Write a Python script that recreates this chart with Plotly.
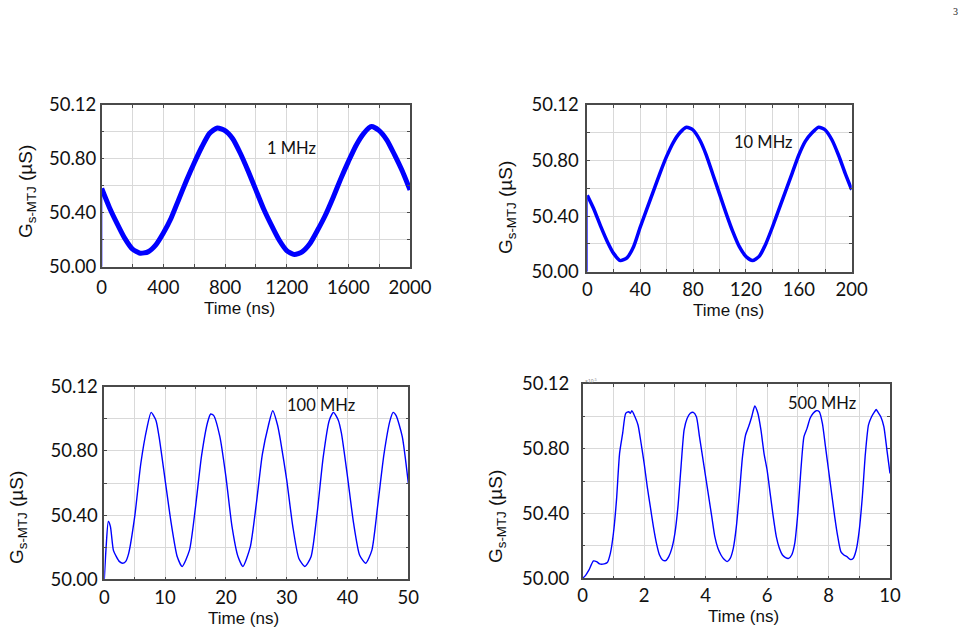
import plotly.graph_objects as go

W, H = 968, 633

# ---------------- data ----------------
G_BASE = 50.000

# 1 MHz panel (time in ns)
t1 = [0, 50, 100, 150, 200, 250, 300, 350, 400, 450, 500, 550, 600, 650, 700, 750,
      800, 850, 900, 950, 1000, 1050, 1100, 1150, 1200, 1250, 1300, 1350, 1400, 1450,
      1500, 1550, 1600, 1650, 1700, 1750, 1800, 1850, 1900, 1950, 2000]
g1 = [50.058, 50.044, 50.032, 50.021, 50.013, 50.010, 50.011, 50.016, 50.025, 50.036,
      50.050, 50.064, 50.077, 50.089, 50.099, 50.103, 50.101, 50.095, 50.084, 50.071,
      50.057, 50.043, 50.031, 50.020, 50.012, 50.009, 50.011, 50.017, 50.027, 50.038,
      50.051, 50.065, 50.078, 50.090, 50.099, 50.104, 50.101, 50.094, 50.083, 50.071,
      50.057]

# 10 MHz panel
t2 = [0, 5, 10, 15, 20, 25, 30, 35, 40, 45, 50, 55, 60, 65, 70, 75, 80, 85, 90, 95,
      100, 105, 110, 115, 120, 125, 130, 135, 140, 145, 150, 155, 160, 165, 170, 175,
      180, 185, 190, 195, 200]
g2 = [50.055, 50.045, 50.033, 50.022, 50.013, 50.008, 50.010, 50.018, 50.032, 50.045,
      50.058, 50.071, 50.083, 50.093, 50.100, 50.104, 50.102, 50.095, 50.084, 50.070,
      50.056, 50.042, 50.029, 50.018, 50.011, 50.008, 50.011, 50.020, 50.032, 50.045,
      50.058, 50.071, 50.084, 50.094, 50.100, 50.104, 50.102, 50.095, 50.084, 50.071,
      50.059]

# 100 MHz panel
t3 = [0, 0.3, 0.66, 1.0, 1.5, 2, 2.5, 3, 3.5, 4, 5, 6, 7, 7.7, 8.5, 9, 10, 11, 12, 12.8,
      14, 15, 16, 17, 17.5, 18, 19, 20, 21, 22, 22.8, 24, 25, 26, 27, 27.7, 28.5, 29,
      30, 31, 32, 33, 34, 35, 36, 37, 37.7, 38.5, 39, 40, 41, 42, 43, 44, 45, 46, 47,
      47.5, 48, 49, 50]
g3 = [50.000, 50.020, 50.036, 50.033, 50.018, 50.014, 50.011, 50.010, 50.011, 50.016,
      50.039, 50.072, 50.094, 50.104, 50.099, 50.089, 50.062, 50.035, 50.014, 50.008,
      50.018, 50.045, 50.077, 50.098, 50.103, 50.102, 50.089, 50.064, 50.033, 50.014,
      50.008, 50.020, 50.047, 50.078, 50.096, 50.105, 50.096, 50.086, 50.062, 50.033,
      50.013, 50.008, 50.014, 50.041, 50.076, 50.099, 50.104, 50.099, 50.091, 50.064,
      50.035, 50.015, 50.010, 50.018, 50.047, 50.078, 50.099, 50.104, 50.102, 50.089,
      50.060]

# 500 MHz panel
t4 = [0, 0.1, 0.2, 0.35, 0.45, 0.55, 0.7, 0.8, 0.9, 1.0, 1.1, 1.2, 1.3, 1.4, 1.5, 1.55,
      1.6, 1.7, 1.8, 1.9, 2.0, 2.1, 2.2, 2.3, 2.4, 2.5, 2.6, 2.7, 2.8, 2.9, 3.0, 3.1,
      3.2, 3.3, 3.4, 3.5, 3.6, 3.7, 3.8, 3.9, 4.0, 4.1, 4.2, 4.3, 4.4, 4.5, 4.6, 4.7,
      4.8, 4.9, 5.0, 5.1, 5.2, 5.3, 5.4, 5.5, 5.6, 5.7, 5.8, 5.9, 6.0, 6.1, 6.2, 6.3,
      6.4, 6.5, 6.6, 6.7, 6.8, 6.9, 7.0, 7.1, 7.2, 7.3, 7.4, 7.5, 7.6, 7.7, 7.8, 7.9,
      8.0, 8.1, 8.2, 8.3, 8.4, 8.5, 8.6, 8.7, 8.8, 8.9, 9.0, 9.1, 9.2, 9.3, 9.4, 9.5,
      9.55, 9.6, 9.7, 9.8, 9.9, 10.0]
g4 = [50.000, 50.002, 50.005, 50.0107, 50.0103, 50.0089, 50.0089, 50.0097, 50.0154,
      50.0278, 50.0484, 50.0772, 50.0895, 50.1019, 50.1029, 50.1019, 50.1035, 50.0998,
      50.0947, 50.0834, 50.0710, 50.0566, 50.0443, 50.0319, 50.0216, 50.0144, 50.0113,
      50.0109, 50.0134, 50.0185, 50.0278, 50.0443, 50.0690, 50.0916, 50.0988, 50.1019,
      50.1025, 50.0998, 50.0875, 50.0751, 50.0628, 50.0504, 50.0381, 50.0257, 50.0185,
      50.0144, 50.0117, 50.0103, 50.0123, 50.0185, 50.0319, 50.0525, 50.0751, 50.0885,
      50.0937, 50.0998, 50.1064, 50.1019, 50.0916, 50.0772, 50.0669, 50.0525, 50.0381,
      50.0257, 50.0185, 50.0144, 50.0128, 50.0123, 50.0144, 50.0216, 50.0401, 50.0669,
      50.0875, 50.0926, 50.0988, 50.1019, 50.1035, 50.1029, 50.0957, 50.0813, 50.0669,
      50.0525, 50.0381, 50.0257, 50.0165, 50.0144, 50.0134, 50.0117, 50.0123, 50.0175,
      50.0298, 50.0504, 50.0772, 50.0947, 50.0998, 50.1029, 50.1043, 50.1029, 50.0998,
      50.0937, 50.0792, 50.0648]

y_tickvals = [50.00, 50.02, 50.04, 50.06, 50.08, 50.10, 50.12]
y_ticktext = ["50.00", "", "50.40", "", "50.80", "", "50.12"]

x1_vals = list(range(0, 2001, 200))
x1_text = ["0", "", "400", "", "800", "", "1200", "", "1600", "", "2000"]
x2_vals = list(range(0, 201, 20))
x2_text = ["0", "", "40", "", "80", "", "120", "", "160", "", "200"]
x3_vals = list(range(0, 51, 5))
x3_text = ["0", "", "10", "", "20", "", "30", "", "40", "", "50"]
x4_vals = list(range(0, 11, 1))
x4_text = ["0", "", "2", "", "4", "", "6", "", "8", "", "10"]

freq_labels = ["1 MHz", "10 MHz", "100 MHz", "500 MHz"]
x_title = "Time (ns)"
y_title = "G<sub>s-MTJ</sub> (µS)"


# ---------------- layout helpers ----------------
def px(x):
    return x / W


def py(y):
    return 1 - y / H


# panel pixel boxes: left, right, top, bottom
boxes = [
    (101.7, 410.0, 105.0, 266.7),
    (587.3, 851.7, 105.0, 271.7),
    (104.3, 408.3, 386.7, 579.3),
    (582.7, 890.0, 384.0, 578.3),
]
xranges = [[0, 2000], [0, 200], [0, 50], [0, 10]]
xticks = [(x1_vals, x1_text), (x2_vals, x2_text), (x3_vals, x3_text), (x4_vals, x4_text)]
ylab_standoff = [0, 3, 1, 8]
xlab_standoff = [3, 0, 1, 0]

BLUE = "#0000ff"
FRAME = "#4a4a4a"
GRID = "#d9d9d9"
TICKFONT = dict(family="Lato, Liberation Sans, Arial", size=18.5, color="#111")

fig = go.Figure()

series = [(t1, g1, 5), (t2, g2, 3.5), (t3, g3, 1.4), (t4, g4, 1.4)]
for i, (tt, gg, lw) in enumerate(series):
    xa = "x" if i == 0 else f"x{i+1}"
    ya = "y" if i == 0 else f"y{i+1}"
    if i < 2:
        # thin initial step from the baseline
        fig.add_trace(go.Scatter(x=[tt[0], tt[0]], y=[G_BASE, gg[0]], mode="lines",
                                 line=dict(color=BLUE, width=1.2), xaxis=xa, yaxis=ya,
                                 showlegend=False, hoverinfo="skip"))
    fig.add_trace(go.Scatter(x=tt, y=gg, mode="lines",
                             line=dict(color=BLUE, width=lw, shape="spline", smoothing=0.6),
                             xaxis=xa, yaxis=ya, showlegend=False))

layout = dict(
    width=W, height=H,
    margin=dict(l=0, r=0, t=0, b=0, autoexpand=False),
    paper_bgcolor="white", plot_bgcolor="white",
    showlegend=False,
)

annotations = []
for i, (l, r, t, b) in enumerate(boxes):
    sfx = "" if i == 0 else str(i + 1)
    xv, xt = xticks[i]
    layout["xaxis" + sfx] = dict(
        domain=[px(l), px(r)], range=xranges[i], anchor="y" + sfx, automargin=False,
        tickvals=xv, ticktext=xt, showgrid=True, gridcolor=GRID, gridwidth=1,
        showline=True, linecolor=FRAME, linewidth=1.5, mirror="ticks",
        ticks="inside", ticklen=3, tickcolor=FRAME, tickwidth=1,
        tickfont=TICKFONT, zeroline=False, ticklabelstandoff=xlab_standoff[i],
    )
    layout["yaxis" + sfx] = dict(
        domain=[py(b), py(t)], range=[50.00, 50.12], anchor="x" + sfx, automargin=False,
        tickvals=y_tickvals, ticktext=y_ticktext, showgrid=True, gridcolor=GRID, gridwidth=1,
        showline=True, linecolor=FRAME, linewidth=1.5, mirror="ticks",
        ticks="inside", ticklen=3, tickcolor=FRAME, tickwidth=1,
        tickfont=TICKFONT, zeroline=False, ticklabelstandoff=ylab_standoff[i],
    )

# axis titles as annotations
ytitle_pos = [(27, 192), (507, 207), (18, 518), (497, 517)]
xtitle_pos = [(239, 308), (728, 311), (243, 618), (743, 616)]
freq_pos = [(291, 148), (763, 142), (321, 405), (822, 403)]
for i in range(4):
    annotations.append(dict(
        text=y_title, x=px(ytitle_pos[i][0]), y=py(ytitle_pos[i][1]), xref="paper", yref="paper",
        xanchor="center", yanchor="middle", textangle=-90, showarrow=False,
        font=dict(family="Liberation Sans, Arial", size=19, color="#111")))
    annotations.append(dict(
        text=x_title, x=px(xtitle_pos[i][0]), y=py(xtitle_pos[i][1]), xref="paper", yref="paper",
        xanchor="center", yanchor="middle", showarrow=False,
        font=dict(family="Liberation Sans, Arial", size=17, color="#111")))
    annotations.append(dict(
        text=freq_labels[i], x=px(freq_pos[i][0]), y=py(freq_pos[i][1]), xref="paper", yref="paper",
        xanchor="center", yanchor="middle", showarrow=False,
        font=dict(family="Lato, Liberation Sans, Arial", size=16.5, color="#111")))

# page number and small exponent marker
annotations.append(dict(text="3", x=px(955), y=py(12), xref="paper", yref="paper",
                        xanchor="center", yanchor="middle", showarrow=False,
                        font=dict(family="Liberation Serif, Times New Roman", size=10, color="#222")))
annotations.append(dict(text="×10<sup>-5</sup>", x=px(583), y=py(381), xref="paper", yref="paper",
                        xanchor="left", yanchor="middle", showarrow=False,
                        font=dict(family="Liberation Sans, Arial", size=5, color="#888")))

layout["annotations"] = annotations
fig.update_layout(**layout)
fig.write_html("out.html")
